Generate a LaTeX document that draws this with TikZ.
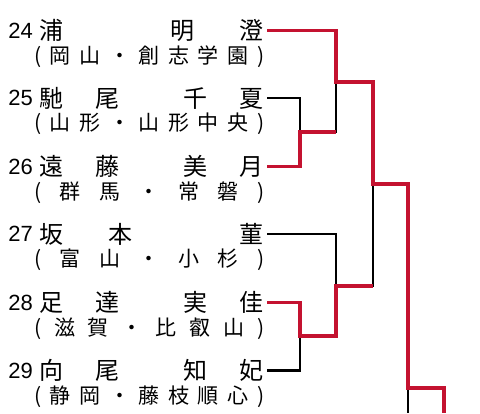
\documentclass[tikz,border=0pt]{standalone}
\usepackage{fontspec}
\newfontfamily\jpfont{Noto Sans CJK JP}
\newfontfamily\numfont{Liberation Sans}
\usetikzlibrary{positioning}
\definecolor{winred}{HTML}{C41230}
\tikzset{
  seedlabel/.style={inner sep=0pt, font=\numfont\fontsize{22}{22}\selectfont},
  namebox/.style={anchor=west, inner sep=0pt, outer xsep=3pt,
    font=\jpfont\fontsize{24}{24}\selectfont},
  schoolbox/.style={anchor=west, inner sep=0pt,
    font=\jpfont\fontsize{21}{21}\selectfont},
  loseline/.style={draw=black, line width=2.3pt},
  winline/.style={draw=winred, line width=3.3pt},
}

\begin{document}
\begin{tikzpicture}[x=1pt, y=-1pt]
  \useasboundingbox (0,0) rectangle (480,413);

  % Players
  \foreach \n/\y/\name/\club in {
    24/30.5/{浦\hspace{\stretch{7}}明\hspace{\stretch{3}}澄}/{(\hfill{}岡\hfill{}山\hfill{}・\hfill{}創\hfill{}志\hfill{}学\hfill{}園\hfill{})},
    25/98/{馳\hspace{\stretch{1}}尾\hspace{\stretch{2}}千\hspace{\stretch{1}}夏}/{(\hfill{}山\hfill{}形\hfill{}・\hfill{}山\hfill{}形\hfill{}中\hfill{}央\hfill{})},
    26/166.5/{遠\hspace{\stretch{1}}藤\hspace{\stretch{2}}美\hspace{\stretch{1}}月}/{(\hfill{}群\hfill{}馬\hfill{}・\hfill{}常\hfill{}磐\hfill{})},
    27/234/{坂\hspace{\stretch{3}}本\hspace{\stretch{7}}菫}/{(\hfill{}富\hfill{}山\hfill{}・\hfill{}小\hfill{}杉\hfill{})},
    28/302.5/{足\hspace{\stretch{1}}達\hspace{\stretch{2}}実\hspace{\stretch{1}}佳}/{(\hfill{}滋\hfill{}賀\hfill{}・\hfill{}比\hfill{}叡\hfill{}山\hfill{})},
    29/370.5/{向\hspace{\stretch{1}}尾\hspace{\stretch{2}}知\hspace{\stretch{1}}妃}/{(\hfill{}静\hfill{}岡\hfill{}・\hfill{}藤\hfill{}枝\hfill{}順\hfill{}心\hfill{})}}
  {
    \node[namebox] (n\n) at (36,\y) {\makebox[225pt][s]{\name}};
    \node[seedlabel, left=3pt of n\n] (s\n) {\n};
    \node[schoolbox] (c\n) at (34,\y+26) {\makebox[230pt][s]{\club}};
  }

  % Rounds
  \coordinate (qa) at (300,132);
  \coordinate (qb) at (336,82);
  \coordinate (qc) at (300,336);
  \coordinate (qd) at (336,286);
  \coordinate (qe) at (373,184);
  \coordinate (qf) at (408,388);
  \coordinate (qlow) at (408,413);
  \coordinate (qnext) at (444,413);

  % Losers
  \draw[loseline] (n25.east) -| (qa);
  \draw[loseline] (qa) -| (qb);
  \draw[loseline] (n27.east) -| (qd);
  \draw[loseline] (n29.east) -| (qc);
  \draw[loseline] (qd) -| (qe);
  \draw[loseline] (qf) -- (qlow);

  % Winners
  \draw[winline] (n26.east) -| (qa) -- (qa -| qb);
  \draw[winline] (n28.east) -| (qc) -- (qc -| qd) -- (qd) -- (qd -| qe);
  \draw[winline] (n24.east) -| (qb) -| (qe) -| (qf) -| (qnext);
\end{tikzpicture}
\end{document}
